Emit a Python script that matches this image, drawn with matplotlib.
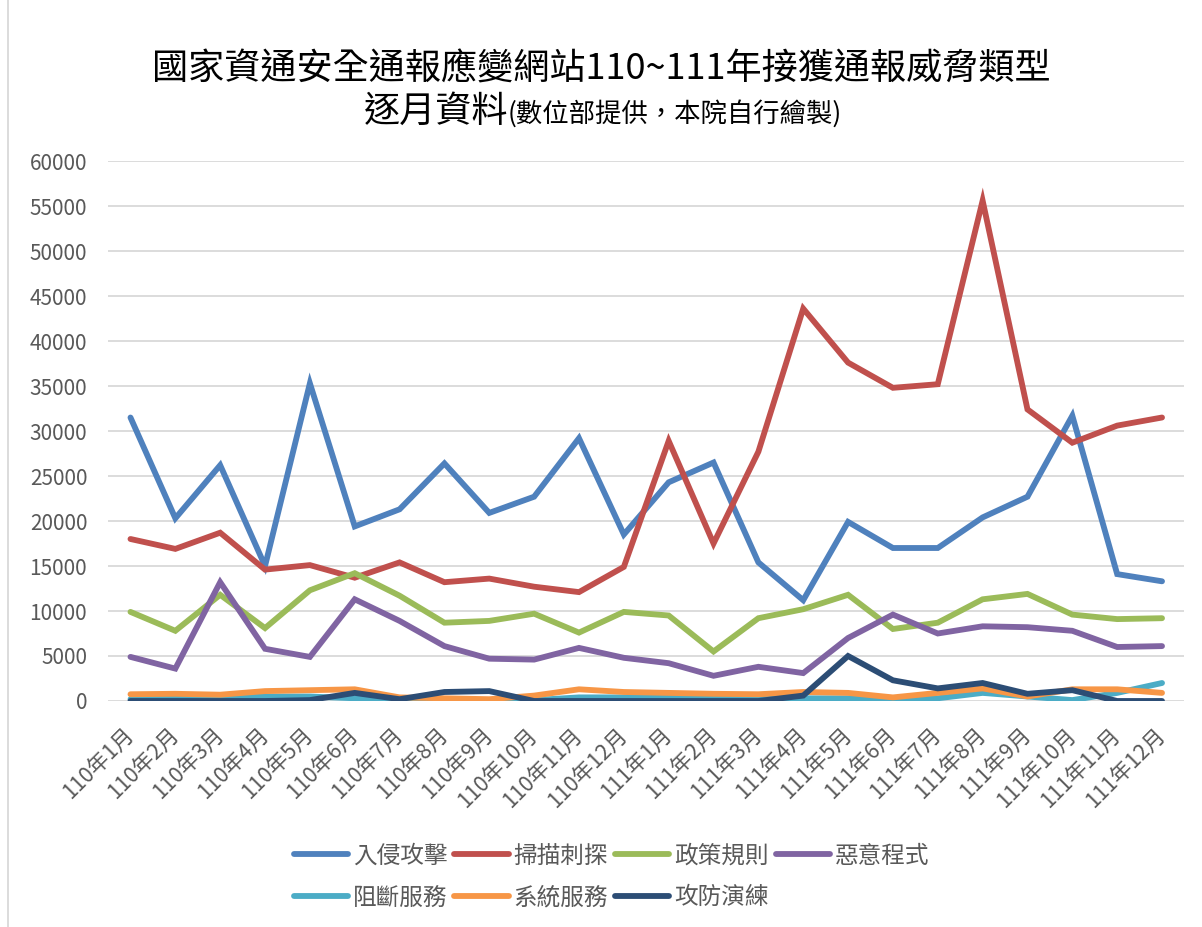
import matplotlib
matplotlib.use("Agg")
import matplotlib.pyplot as plt
from matplotlib.lines import Line2D

plt.rcParams['font.family'] = ['Noto Sans CJK TC', 'DejaVu Sans']

# 月份
months = ["110年1月", "110年2月", "110年3月", "110年4月", "110年5月", "110年6月",
          "110年7月", "110年8月", "110年9月", "110年10月", "110年11月", "110年12月",
          "111年1月", "111年2月", "111年3月", "111年4月", "111年5月", "111年6月",
          "111年7月", "111年8月", "111年9月", "111年10月", "111年11月", "111年12月"]

# 各類型通報數
intrusion = [31500, 20300, 26200, 15000, 35300, 19400, 21300, 26400, 20900, 22700, 29200, 18500,
             24300, 26500, 15400, 11200, 19900, 17000, 17000, 20400, 22700, 31700, 14100, 13300]
scan = [18000, 16900, 18700, 14600, 15100, 13700, 15400, 13200, 13600, 12700, 12100, 14900,
        28900, 17500, 27700, 43600, 37600, 34800, 35200, 55600, 32400, 28700, 30600, 31500]
policy = [9900, 7800, 11800, 8100, 12300, 14200, 11700, 8700, 8900, 9700, 7600, 9900,
          9500, 5500, 9200, 10200, 11800, 8000, 8700, 11300, 11900, 9600, 9100, 9200]
malware = [4900, 3600, 13200, 5800, 4900, 11300, 8900, 6100, 4700, 4600, 5900, 4800,
           4200, 2800, 3800, 3100, 7000, 9600, 7500, 8300, 8200, 7800, 6000, 6100]
ddos = [200, 300, 300, 500, 500, 300, 100, 100, 100, 100, 400, 400,
        400, 300, 300, 300, 300, 300, 300, 900, 500, 100, 900, 2000]
system = [750, 800, 700, 1100, 1200, 1300, 400, 300, 200, 600, 1300, 1000,
          900, 800, 750, 1000, 900, 400, 900, 1400, 500, 1300, 1300, 900]
drill = [0, 0, 0, 0, 100, 900, 200, 1000, 1100, 0, 0, 0,
         0, 0, 0, 600, 5000, 2300, 1400, 2000, 800, 1200, 0, 0]

names = ["入侵攻擊", "掃描刺探", "政策規則", "惡意程式", "阻斷服務", "系統服務", "攻防演練"]
series = [intrusion, scan, policy, malware, ddos, system, drill]
colors = ["#4F81BD", "#C0504D", "#9BBB59", "#8064A2", "#4BACC6", "#F79646", "#2C4D75"]

fig = plt.figure(figsize=(12.02, 9.27), dpi=100)
ax = fig.add_axes([0.0899, 0.2438, 0.8955, 0.5825])

x = list(range(len(months)))
handles = []
for s, c, n in zip(series, colors, names):
    h, = ax.plot(x, s, color=c, linewidth=4.2, solid_capstyle='round',
                 solid_joinstyle='miter', label=n)
    handles.append(h)

ax.set_xlim(-0.5, len(months) - 0.5)
ax.set_ylim(0, 60000)
ax.set_yticks(range(0, 60001, 5000))
ax.set_xticks(x)
ax.set_xticklabels(months, rotation=45, ha='right', va='center',
                   rotation_mode='anchor', fontsize=15.5, color='#595959')
ax.tick_params(axis='y', length=0, pad=15, labelsize=15, labelcolor='#595959')
ax.tick_params(axis='x', length=0, pad=22)
ax.grid(axis='y', color='#D9D9D9', linewidth=1.3)
ax.set_axisbelow(True)
for sp in ax.spines.values():
    sp.set_visible(False)

# 標題
fig.text(0.5, 1 - 80 / 927, "國家資通安全通報應變網站110~111年接獲通報威脅類型",
         ha='center', va='baseline', fontsize=26, color='black')
fig.text(508 / 1202, 1 - 122 / 927, "逐月資料", ha='right', va='baseline',
         fontsize=26, color='black')
fig.text(508 / 1202, 1 - 122 / 927, "(數位部提供，本院自行繪製)", ha='left',
         va='baseline', fontsize=19, color='black')

# 圖例 (逐列排列)
order = [0, 4, 1, 5, 2, 6, 3]
leg = fig.legend([handles[i] for i in order], [names[i] for i in order],
                 ncol=4, loc='center', bbox_to_anchor=(0.5087, 1 - 877 / 927),
                 frameon=False, fontsize=17, handlelength=2.3, handletextpad=0.2,
                 columnspacing=0.3, labelspacing=0.8, borderpad=0)
for t in leg.get_texts():
    t.set_color('#595959')

# 外框
fig.add_artist(Line2D([8 / 1202, 8 / 1202], [0, 1], color='#D9D9D9', linewidth=1.3))

fig.savefig("out.png", dpi=100)
